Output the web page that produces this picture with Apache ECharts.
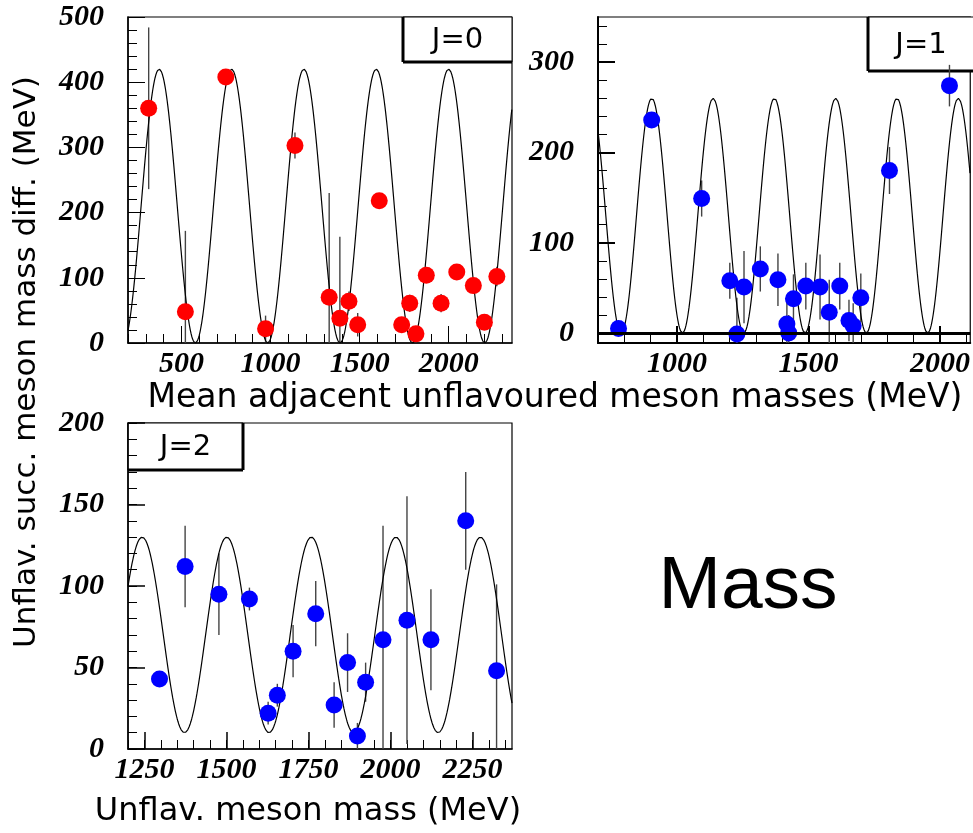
<!DOCTYPE html>
<html><head><meta charset="utf-8">
<script src="https://cdn.jsdelivr.net/npm/echarts@6/dist/echarts.min.js"></script>
<style>html,body{margin:0;padding:0;background:#fff}#c{width:973px;height:833px}</style>
</head><body><div id="c"></div>
<script>
// ---------- DATA ----------
// J=0 panel: mean adjacent masses vs successive mass difference
const j0Mass = [316, 522, 749, 972, 1137, 1329, 1389, 1440, 1489, 1610, 1736, 1781, 1816, 1874, 1957, 2045, 2138, 2200, 2270];
const j0Diff = [360, 48, 408, 22, 303, 70, 38, 64, 28, 218, 28, 61, 14, 104, 61, 109, 88, 32, 102];
const j0Err  = [124, 124, 10, 20, 20, 160, 125, 15, 18, 0, 12, 13, 8, 10, 14, 11, 8, 11, 15];
// J=1 panel
const j1Mass = [778, 904, 1094, 1201, 1228, 1255, 1317, 1384, 1443, 1418, 1425, 1490, 1544, 1579, 1619, 1654, 1670, 1699, 1808, 2036];
const j1Diff = [5, 236, 149, 58, -1, 51, 71, 59, 38, 10, 0, 52, 51, 23, 52, 14, 8, 39, 180, 274];
const j1Err  = [0, 5, 20, 20, 40, 40, 25, 29, 27, 26, 20, 26, 36, 36, 26, 23, 25, 27, 26, 23];
// J=2 panel
const j2Mass = [1296, 1374, 1477, 1570, 1627, 1655, 1703, 1772, 1828, 1869, 1899, 1924, 1977, 2050, 2123, 2229, 2323];
const j2Diff = [43, 112, 95, 92, 22, 33, 60, 83, 27, 53, 8, 41, 67, 79, 67, 140, 48];
const j2Err  = [0, 25, 25, 7, 7, 7, 16, 20, 14, 18, 8, 12, 70, 76, 31, 30, 53];
// Fitted periodic curves (trough value, peak value, period, trough position) in MeV
const j0Fit = {low: 0,  high: 420, period: 406,   trough: 578};
const j1Fit = {low: 0,  high: 260, period: 233,   trough: 788};
const j2Fit = {low: 10, high: 130, period: 257.7, trough: 1372};
// Axis ranges and tick labels
const j0XRange = [200, 2355], j0YRange = [0, 500];
const j1XRange = [700, 2115], j1YRange = [-11, 350];
const j2XRange = [1200, 2370], j2YRange = [0, 200];
const j0XLabels = [500, 1000, 1500, 2000];
const j0YLabels = [0, 100, 200, 300, 400, 500];
const j1XLabels = [1000, 1500, 2000];
const j1YLabels = [0, 100, 200, 300];
const j2XLabels = [1250, 1500, 1750, 2000, 2250];
const j2YLabels = [0, 50, 100, 150, 200];
const xTitleTop = 'Mean adjacent unflavoured meson masses (MeV)';
const yTitle = 'Unflav. succ. meson mass diff. (MeV)';
const xTitleBottom = 'Unflav. meson mass (MeV)';
const bigLabel = 'Mass';

// ---------- BUILD ----------
function steps(a, b, s) { const r = []; for (let v = Math.ceil(a / s) * s; v <= b + 1e-9; v += s) r.push(v); return r; }
function fitCurve(f, range) {
  const pts = [];
  for (let x = range[0]; x <= range[1]; x += 2) {
    const m = (f.low + f.high) / 2, a = (f.high - f.low) / 2;
    pts.push([x, m - a * Math.cos(2 * Math.PI * (x - f.trough) / f.period)]);
  }
  return pts;
}
const numFont = {fontFamily: 'Liberation Serif', fontWeight: 'bold', fontStyle: 'italic', fontSize: 30, color: '#000'};
const plain = v => String(v);

function axesFor(grid, xr, yr, xl, yl, xMinorStep, yMinorStep, axisW, majorW) {
  const xs = [], ys = [];
  xs.push({type: 'value', gridIndex: grid, min: xr[0], max: xr[1], position: 'bottom',
    axisLine: {show: true, onZero: false, lineStyle: {color: '#000', width: axisW}},
    axisTick: {show: true, inside: true, length: 9, customValues: steps(xr[0], xr[1], xMinorStep), lineStyle: {color: '#000', width: 1}},
    axisLabel: {show: true, customValues: xl, margin: 6, formatter: plain, ...numFont},
    splitLine: {show: false}});
  xs.push({type: 'value', gridIndex: grid, min: xr[0], max: xr[1], position: 'bottom',
    axisLine: {show: false, onZero: false},
    axisTick: {show: true, inside: true, length: 17, customValues: xl, lineStyle: {color: '#000', width: majorW}},
    axisLabel: {show: false}, splitLine: {show: false}});
  ys.push({type: 'value', gridIndex: grid, min: yr[0], max: yr[1], position: 'left',
    axisLine: {show: true, onZero: false, lineStyle: {color: '#000', width: axisW}},
    axisTick: {show: true, inside: true, length: 9, customValues: steps(yr[0], yr[1], yMinorStep), lineStyle: {color: '#000', width: 1}},
    axisLabel: {show: true, customValues: yl, margin: 24, formatter: plain, ...numFont},
    splitLine: {show: false}});
  ys.push({type: 'value', gridIndex: grid, min: yr[0], max: yr[1], position: 'left',
    axisLine: {show: false, onZero: false},
    axisTick: {show: true, inside: true, length: 17, customValues: yl, lineStyle: {color: '#000', width: majorW}},
    axisLabel: {show: false}, splitLine: {show: false}});
  return {xs, ys};
}
const a0 = axesFor(0, j0XRange, j0YRange, j0XLabels, j0YLabels, 100, 20, 1.5, 1);
const a1 = axesFor(1, j1XRange, j1YRange, j1XLabels, j1YLabels, 100, 20, 2, 2);
const a2 = axesFor(2, j2XRange, j2YRange, j2XLabels, j2YLabels, 50, 10, 1.5, 1.5);

function errSeries(ax, xs, ys, es, yr) {
  return {type: 'custom', xAxisIndex: ax, yAxisIndex: ax, silent: true, z: 2,
    data: xs.map((x, i) => [x, ys[i], es[i]]),
    renderItem(params, api) {
      const x = api.value(0), y = api.value(1), e = api.value(2);
      if (!e) return null;
      const hi = Math.min(y + e, yr[1]), lo = Math.max(y - e, yr[0]);
      const p1 = api.coord([x, hi]), p2 = api.coord([x, lo]);
      return {type: 'line', shape: {x1: p1[0], y1: p1[1], x2: p2[0], y2: p2[1]}, style: {stroke: '#444', lineWidth: 1.4}};
    }};
}
function curveSeries(ax, f, xr) {
  return {type: 'line', xAxisIndex: ax, yAxisIndex: ax, data: fitCurve(f, xr), showSymbol: false, symbol: 'none',
    lineStyle: {color: '#000', width: 1.2}, silent: true, z: 2, clip: true};
}
function dotSeries(ax, xs, ys, color, extra) {
  return Object.assign({type: 'scatter', xAxisIndex: ax, yAxisIndex: ax, data: xs.map((x, i) => [x, ys[i]]),
    symbolSize: 17, itemStyle: {color: color, opacity: 1}, z: 4, silent: true, clip: false}, extra || {});
}

const sansFont = 'DejaVu Sans';
function labelBox(x, y, w, h, text, thick) {
  const els = [{type: 'rect', shape: {x: x, y: y, width: w, height: h}, style: {fill: '#fff', stroke: '#000', lineWidth: 1}}];
  thick.forEach(t => els.push({type: 'line', shape: t, style: {stroke: '#000', lineWidth: 3}}));
  els.push({type: 'text', x: x + w / 2, y: y + h / 2 + 1, style: {text: text, font: '29px "' + sansFont + '"', align: 'center', verticalAlign: 'middle', fill: '#000'}});
  return els;
}

const option = {
  animation: false,
  backgroundColor: '#fff',
  grid: [
    {left: 128, top: 17, width: 384, height: 326, show: true, borderColor: '#000', borderWidth: 1.2, backgroundColor: 'transparent'},
    {left: 598, top: 17, width: 376, height: 326, show: true, borderColor: '#000', borderWidth: 1.2, backgroundColor: 'transparent'},
    {left: 128, top: 423, width: 384, height: 326, show: true, borderColor: '#000', borderWidth: 1.2, backgroundColor: 'transparent'}
  ],
  xAxis: [...a0.xs, ...a1.xs, ...a2.xs],
  yAxis: [...a0.ys, ...a1.ys, ...a2.ys],
  series: [
    curveSeries(0, j0Fit, j0XRange),
    errSeries(0, j0Mass, j0Diff, j0Err, j0YRange),
    dotSeries(0, j0Mass, j0Diff, '#ff0000'),
    curveSeries(2, j1Fit, j1XRange),
    errSeries(2, j1Mass, j1Diff, j1Err, j1YRange),
    dotSeries(2, j1Mass, j1Diff, '#0000ff', {markLine: {silent: true, symbol: 'none', label: {show: false},
      lineStyle: {color: '#000', width: 3, type: 'solid'}, data: [{yAxis: 0}]}}),
    curveSeries(4, j2Fit, j2XRange),
    errSeries(4, j2Mass, j2Diff, j2Err, j2YRange),
    dotSeries(4, j2Mass, j2Diff, '#0000ff')
  ],
  graphic: [
    ...labelBox(403, 17, 109, 45, 'J=0', [{x1: 403, y1: 17, x2: 403, y2: 62}, {x1: 403, y1: 62, x2: 512, y2: 62}]),
    ...labelBox(868, 17, 106, 54, 'J=1', [{x1: 868, y1: 17, x2: 868, y2: 71}, {x1: 868, y1: 71, x2: 974, y2: 71}]),
    ...labelBox(128, 423, 115, 47, 'J=2', [{x1: 243, y1: 423, x2: 243, y2: 470}, {x1: 128, y1: 470, x2: 243, y2: 470}]),
    {type: 'text', x: 555, y: 398, style: {text: xTitleTop, font: '33px "' + sansFont + '"', align: 'center', verticalAlign: 'middle', fill: '#000'}},
    {type: 'text', x: 27, y: 362, rotation: Math.PI / 2, style: {text: yTitle, font: '31px "' + sansFont + '"', align: 'center', verticalAlign: 'middle', fill: '#000'}},
    {type: 'text', x: 308, y: 812, style: {text: xTitleBottom, font: '32px "' + sansFont + '"', align: 'center', verticalAlign: 'middle', fill: '#000'}},
    {type: 'text', x: 748, y: 587, style: {text: bigLabel, font: '75px "Liberation Sans"', align: 'center', verticalAlign: 'middle', fill: '#000'}}
  ]
};
echarts.init(document.getElementById('c')).setOption(option);
</script></body></html>
